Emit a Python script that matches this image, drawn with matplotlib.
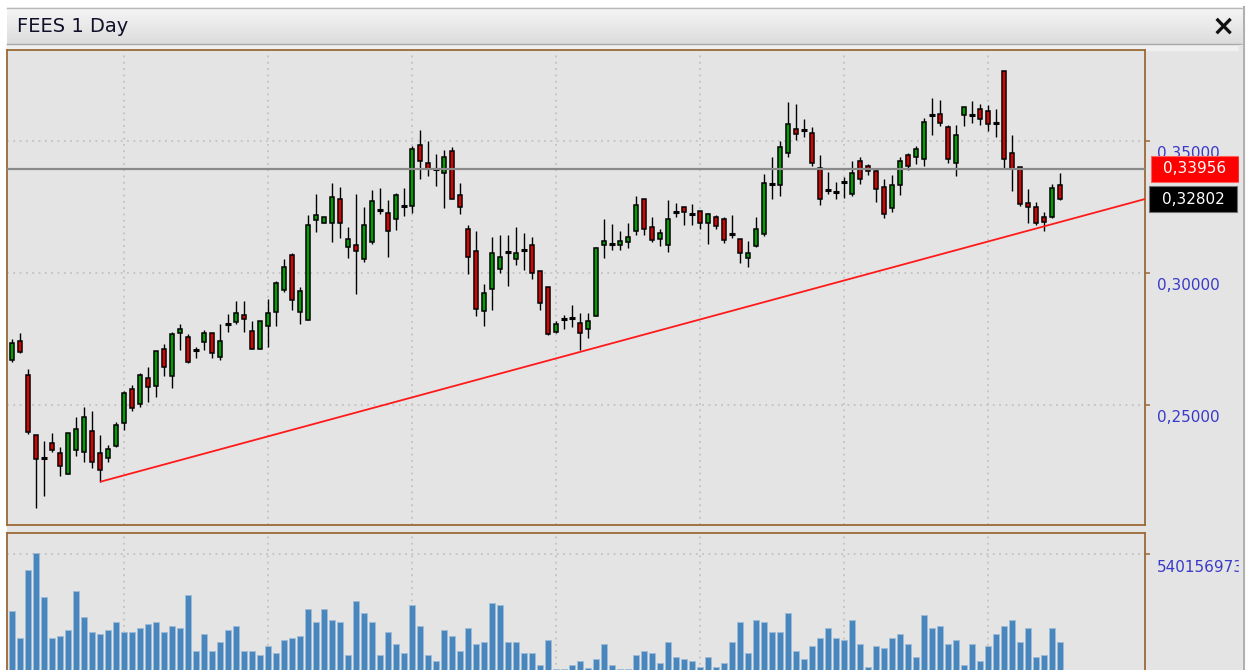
import numpy as np
import matplotlib.pyplot as plt
from matplotlib.patches import Rectangle
from matplotlib.lines import Line2D
from matplotlib.transforms import ScaledTranslation
from matplotlib.colors import LinearSegmentedColormap

# daily OHLC
opens = [0.2670, 0.2742, 0.2613, 0.2385, 0.2299, 0.2355, 0.2317, 0.2240, 0.2331, 0.2323,
         0.2402, 0.2317, 0.2300, 0.2346, 0.2431, 0.2559, 0.2505, 0.2603, 0.2573, 0.2711,
         0.2611, 0.2772, 0.2758, 0.2709, 0.2740, 0.2773, 0.2681, 0.2807, 0.2816, 0.2842,
         0.2780, 0.2711, 0.2800, 0.2853, 0.2937, 0.3068, 0.2853, 0.2823, 0.3201, 0.3188,
         0.3188, 0.3280, 0.3097, 0.3105, 0.3052, 0.3116, 0.3239, 0.3227, 0.3203, 0.3254,
         0.3255, 0.3486, 0.3418, 0.3395, 0.3379, 0.3462, 0.3295, 0.3168, 0.3083, 0.2855,
         0.2938, 0.3014, 0.3081, 0.3052, 0.3088, 0.3106, 0.3008, 0.2948, 0.2777, 0.2824,
         0.2831, 0.2809, 0.2787, 0.2838, 0.3105, 0.3111, 0.3105, 0.3119, 0.3158, 0.3280,
         0.3174, 0.3129, 0.3107, 0.3232, 0.3250, 0.3225, 0.3234, 0.3188, 0.3213, 0.3203,
         0.3148, 0.3129, 0.3056, 0.3103, 0.3148, 0.3338, 0.3332, 0.3453, 0.3545, 0.3543,
         0.3531, 0.3399, 0.3314, 0.3308, 0.3346, 0.3299, 0.3425, 0.3405, 0.3388, 0.3327,
         0.3246, 0.3332, 0.3448, 0.3441, 0.3431, 0.3597, 0.3601, 0.3554, 0.3416, 0.3600,
         0.3597, 0.3620, 0.3615, 0.3567, 0.3766, 0.3456, 0.3400, 0.3266, 0.3251, 0.3213,
         0.3211, 0.3334]
highs = [0.2749, 0.2774, 0.2638, 0.2386, 0.2364, 0.2395, 0.2342, 0.2393, 0.2456, 0.2494,
         0.2477, 0.2388, 0.2348, 0.2437, 0.2554, 0.2576, 0.2622, 0.2645, 0.2705, 0.2731,
         0.2777, 0.2806, 0.2769, 0.2721, 0.2784, 0.2773, 0.2806, 0.2844, 0.2895, 0.2895,
         0.2818, 0.2818, 0.2903, 0.2969, 0.3054, 0.3077, 0.2947, 0.3220, 0.3298, 0.3213,
         0.3342, 0.3327, 0.3175, 0.3298, 0.3251, 0.3314, 0.3321, 0.3277, 0.3304, 0.3321,
         0.3482, 0.3542, 0.3501, 0.3450, 0.3466, 0.3478, 0.3342, 0.3183, 0.3160, 0.2957,
         0.3138, 0.3145, 0.3145, 0.3175, 0.3153, 0.3138, 0.3008, 0.2948, 0.2817, 0.2841,
         0.2879, 0.2850, 0.2850, 0.3100, 0.3206, 0.3184, 0.3160, 0.3188, 0.3292, 0.3280,
         0.3213, 0.3167, 0.3275, 0.3266, 0.3250, 0.3260, 0.3234, 0.3228, 0.3221, 0.3211,
         0.3220, 0.3129, 0.3121, 0.3213, 0.3374, 0.3441, 0.3501, 0.3647, 0.3639, 0.3584,
         0.3554, 0.3448, 0.3384, 0.3346, 0.3365, 0.3425, 0.3441, 0.3413, 0.3395, 0.3356,
         0.3372, 0.3438, 0.3456, 0.3481, 0.3586, 0.3662, 0.3655, 0.3562, 0.3562, 0.3630,
         0.3653, 0.3639, 0.3635, 0.3622, 0.3766, 0.3524, 0.3400, 0.3319, 0.3270, 0.3232,
         0.3336, 0.3380]
lows = [0.2663, 0.2696, 0.2390, 0.2109, 0.2155, 0.2323, 0.2231, 0.2240, 0.2307, 0.2283,
        0.2260, 0.2209, 0.2283, 0.2342, 0.2405, 0.2478, 0.2494, 0.2511, 0.2531, 0.2610,
        0.2566, 0.2708, 0.2659, 0.2678, 0.2708, 0.2677, 0.2670, 0.2775, 0.2806, 0.2775,
        0.2711, 0.2711, 0.2719, 0.2800, 0.2929, 0.2861, 0.2808, 0.2823, 0.3156, 0.3188,
        0.3119, 0.3131, 0.3058, 0.2922, 0.3043, 0.3110, 0.3223, 0.3059, 0.3163, 0.3216,
        0.3226, 0.3355, 0.3369, 0.3331, 0.3246, 0.3280, 0.3223, 0.2996, 0.2837, 0.2800,
        0.2861, 0.2999, 0.2952, 0.3029, 0.3013, 0.2976, 0.2861, 0.2765, 0.2772, 0.2788,
        0.2794, 0.2708, 0.2755, 0.2838, 0.3058, 0.3087, 0.3087, 0.3094, 0.3144, 0.3143,
        0.3116, 0.3102, 0.3081, 0.3211, 0.3181, 0.3181, 0.3166, 0.3111, 0.3166, 0.3115,
        0.3131, 0.3037, 0.3022, 0.3100, 0.3141, 0.3279, 0.3292, 0.3441, 0.3504, 0.3514,
        0.3405, 0.3258, 0.3299, 0.3280, 0.3283, 0.3292, 0.3337, 0.3370, 0.3270, 0.3209,
        0.3232, 0.3295, 0.3390, 0.3413, 0.3405, 0.3523, 0.3557, 0.3416, 0.3369, 0.3558,
        0.3567, 0.3562, 0.3537, 0.3514, 0.3393, 0.3309, 0.3255, 0.3188, 0.3183, 0.3158,
        0.3207, 0.3277]
closes = [0.2736, 0.2702, 0.2397, 0.2294, 0.2299, 0.2330, 0.2270, 0.2393, 0.2409, 0.2453,
          0.2283, 0.2255, 0.2332, 0.2424, 0.2544, 0.2489, 0.2614, 0.2567, 0.2705, 0.2643,
          0.2768, 0.2787, 0.2664, 0.2709, 0.2773, 0.2696, 0.2742, 0.2807, 0.2848, 0.2825,
          0.2711, 0.2818, 0.2848, 0.2962, 0.3023, 0.2899, 0.2932, 0.3182, 0.3221, 0.3213,
          0.3288, 0.3188, 0.3129, 0.3083, 0.3182, 0.3274, 0.3239, 0.3158, 0.3295, 0.3254,
          0.3471, 0.3423, 0.3395, 0.3395, 0.3439, 0.3280, 0.3249, 0.3061, 0.2862, 0.2924,
          0.3076, 0.3061, 0.3081, 0.3076, 0.3088, 0.2999, 0.2885, 0.2769, 0.2806, 0.2824,
          0.2831, 0.2772, 0.2818, 0.3094, 0.3121, 0.3111, 0.3121, 0.3138, 0.3259, 0.3166,
          0.3124, 0.3152, 0.3205, 0.3232, 0.3232, 0.3225, 0.3188, 0.3223, 0.3178, 0.3125,
          0.3148, 0.3075, 0.3075, 0.3168, 0.3341, 0.3338, 0.3478, 0.3563, 0.3525, 0.3543,
          0.3416, 0.3279, 0.3314, 0.3308, 0.3346, 0.3380, 0.3355, 0.3386, 0.3317, 0.3223,
          0.3332, 0.3425, 0.3405, 0.3471, 0.3572, 0.3597, 0.3567, 0.3431, 0.3524, 0.3630,
          0.3597, 0.3584, 0.3564, 0.3567, 0.3431, 0.3393, 0.3261, 0.3250, 0.3188, 0.3192,
          0.3321, 0.3279]
# volume in millions
volumes = [28.5, 16.5, 47.1, 54.5, 35.0, 16.5, 17.4, 20.2, 37.8, 25.8,
           19.3, 18.3, 20.2, 23.9, 19.3, 19.3, 21.1, 23.0, 23.9, 19.3,
           22.0, 21.1, 35.9, 10.9, 18.3, 10.9, 14.6, 20.2, 22.0, 10.9,
           10.9, 9.1, 12.8, 10.0, 15.5, 16.5, 17.4, 29.4, 23.9, 29.4,
           24.8, 23.9, 9.1, 33.1, 27.6, 23.9, 9.1, 19.3, 13.7, 10.0,
           31.3, 22.0, 9.1, 6.3, 20.2, 17.4, 10.9, 21.1, 13.7, 14.6,
           32.2, 31.3, 14.6, 14.6, 10.0, 10.0, 4.4, 15.5, 2.8, 2.8,
           4.4, 6.3, 3.2, 7.2, 13.7, 4.4, 2.8, 2.8, 9.1, 10.9,
           10.0, 5.4, 14.6, 8.2, 7.2, 6.3, 3.5, 8.2, 3.5, 5.4,
           14.6, 23.9, 10.0, 24.8, 23.9, 19.3, 19.3, 27.6, 10.9, 7.2,
           12.8, 16.5, 21.1, 16.5, 15.5, 24.8, 13.7, 3.5, 12.8, 11.9,
           16.5, 18.3, 13.7, 8.2, 26.7, 21.1, 22.0, 13.7, 15.5, 4.4,
           13.7, 6.3, 12.8, 18.3, 22.0, 24.8, 14.6, 21.1, 8.2, 9.1,
           21.1, 14.6]

title = "FEES 1 Day"
last_price = 0.33956
trend_start_idx = 11
trend_start_price = 0.2209
trend_end_price = 0.32802
price_ticks = [0.25, 0.30, 0.35]
vol_tick = 54015697
grid_idx = [14, 32, 50, 68, 86, 104, 122]

BG = "#e4e4e4"
BROWN = "#9a6a38"
LABEL = "#3a3ac8"
GREEN = "#00a000"
RED = "#e00000"

W, H = 1250, 670
fig = plt.figure(figsize=(W / 100, H / 100), dpi=100, facecolor="white")


def fx(px):
    return px / W


def fy(py):
    return 1 - py / H


def px_off(dx, dy):
    return ScaledTranslation(dx / 100, -dy / 100, fig.dpi_scale_trans)


# panel background and title bar
fig.add_artist(Rectangle((fx(7), 0), fx(1243) - fx(7), fy(44), transform=fig.transFigure,
                         color=BG, zorder=-5))
fig.add_artist(Rectangle((fx(7), fy(50)), fx(1243) - fx(7), 6 / H, transform=fig.transFigure,
                         color="#f0f0f0", zorder=-4))
tb = fig.add_axes([fx(7), fy(44), fx(1243) - fx(7), 37 / H])
grad = LinearSegmentedColormap.from_list("tb", ["#dcdcdc", "#f6f6f6"])
tb.imshow(np.linspace(0, 1, 64).reshape(-1, 1), cmap=grad, aspect="auto",
          extent=[0, 1, 0, 1], origin="lower")
tb.axis("off")
fig.add_artist(Line2D([fx(7), fx(1243)], [fy(7.5), fy(7.5)], color="#b8b8b8", lw=1))
fig.add_artist(Line2D([fx(7), fx(1243)], [fy(44), fy(44)], color="#a8a8a8", lw=1))
fig.text(fx(17), fy(27), title, fontsize=14, color="#101028", va="center", ha="left")
fig.text(fx(1223), fy(27), "\u00d7", fontsize=20, fontweight="bold", color="#101010",
         va="center", ha="center")

o = np.array(opens)
h = np.array(highs)
l = np.array(lows)
c = np.array(closes)
x = np.arange(len(o))
xlim = (-0.625, 141.625)

# price panel
ax = fig.add_axes([fx(7), fy(525), fx(1145) - fx(7), (525 - 50) / H])
ax.set_facecolor(BG)
ax.vlines(x, l, h, color="black", lw=1.0, zorder=2)
up = c > o
dn = c < o
dj = c == o
ax.bar(x[up], (c - o)[up], bottom=o[up], width=0.62, color=GREEN, edgecolor="black",
       linewidth=1.1, zorder=3)
ax.bar(x[dn], (o - c)[dn], bottom=c[dn], width=0.62, color=RED, edgecolor="black",
       linewidth=1.1, zorder=3)
ax.hlines(o[dj], x[dj] - 0.34, x[dj] + 0.34, color="black", lw=2.2, zorder=3)

ax.axhline(last_price, color="#8a8a8a", lw=1.6, zorder=4)
ax.plot([trend_start_idx, xlim[1]], [trend_start_price, trend_end_price],
        color="#ff1a1a", lw=1.3, zorder=5, solid_capstyle="butt")

ax.set_xlim(*xlim)
ax.set_ylim(0.20455, 0.38447)
ax.set_xticks(grid_idx)
ax.set_yticks(price_ticks)
ax.grid(True, color="#c2c2c2", lw=1.3, ls=(0, (1, 2.5)))
ax.tick_params(axis="x", length=0, labelbottom=False)
ax.yaxis.tick_right()
ax.tick_params(axis="y", direction="out", length=3.6, width=1.1, color=BROWN,
               labelright=False, labelleft=False)
for s in ax.spines.values():
    s.set_color(BROWN)
    s.set_linewidth(1.3)

ytr = ax.get_yaxis_transform()
for v in price_ticks:
    ax.text(1.0, v, f"{v:.5f}".replace(".", ","), transform=ytr + px_off(12, 12),
            ha="left", va="center", fontsize=11, color=LABEL)

# value boxes on the scale
for val, face, edge, dx in [(last_price, "#ff0000", "#ff6060", 6),
                            (trend_end_price, "#000000", "#707070", 4)]:
    box = Rectangle((1.0 + dx / 1138, val - 13 / 2640), 88 / 1138, 26 / 2640,
                    transform=ytr, facecolor=face, edgecolor=edge, lw=0.8,
                    clip_on=False, zorder=6)
    ax.add_patch(box)
    ax.text(1.0 + (dx + 44) / 1138, val, f"{val:.5f}".replace(".", ","), transform=ytr,
            ha="center", va="center", fontsize=11, color="white", zorder=7)

# volume panel
vax = fig.add_axes([fx(7), fy(675), fx(1145) - fx(7), (675 - 533) / H])
vax.set_facecolor(BG)
vax.bar(x, np.array(volumes) * 1e6, width=0.75, color="#4886bd", edgecolor="#9fbcd8",
        linewidth=0.6, zorder=3)
vax.set_xlim(*xlim)
vax.set_ylim(0, vol_tick * 142 / 120.6)
vax.set_xticks(grid_idx)
vax.set_yticks([vol_tick])
vax.grid(True, color="#c2c2c2", lw=1.3, ls=(0, (1, 2.5)))
vax.tick_params(axis="x", length=0, labelbottom=False)
vax.yaxis.tick_right()
vax.tick_params(axis="y", direction="out", length=3.6, width=1.1, color=BROWN,
                labelright=False, labelleft=False)
for s in vax.spines.values():
    s.set_color(BROWN)
    s.set_linewidth(1.3)
vax.text(1.0, vol_tick, "540156973", transform=vax.get_yaxis_transform() + px_off(12, 13),
         ha="left", va="center", fontsize=11, color=LABEL)

# right frame edge (cuts the long volume label like the original)
fig.add_artist(Rectangle((fx(1239), 0), fx(1243) - fx(1239), fy(45), transform=fig.transFigure,
                         color=BG, zorder=10))
fig.add_artist(Rectangle((fx(1243), 0), 1 - fx(1243), 1, transform=fig.transFigure,
                         color="white", zorder=10))
fig.add_artist(Line2D([fx(1244), fx(1244)], [0, fy(7)], color="#b0b0b0", lw=1.5, zorder=11))

fig.savefig("out.png", dpi=100, facecolor="white")
